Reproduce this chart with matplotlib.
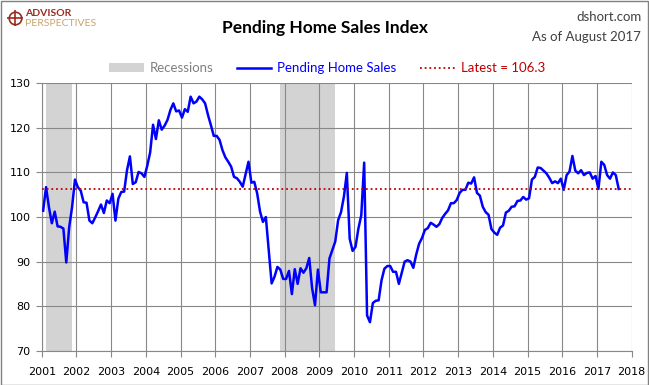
import matplotlib.pyplot as plt
import numpy as np
import pandas as pd
from matplotlib.patches import Patch, Rectangle
from matplotlib.lines import Line2D

# monthly index values, Jan 2001 .. Aug 2017
pending = [
    101.4, 106.7, 102.2, 98.6, 101.2, 97.9, 97.8, 97.4, 89.8, 97.7, 102.2, 108.4,   # 2001
    106.7, 105.9, 103.3, 103.2, 99.2, 98.6, 99.9, 101.3, 102.8, 100.9, 103.7, 103.1, # 2002
    105.2, 99.2, 104.1, 105.6, 105.7, 110.5, 113.6, 107.4, 107.8, 110.1, 109.8, 109.0, # 2003
    111.5, 114.5, 120.7, 117.5, 121.7, 119.6, 120.5, 121.8, 124.0, 125.5, 123.7, 123.9, # 2004
    122.3, 124.2, 123.6, 127.0, 125.5, 125.9, 127.0, 126.4, 125.5, 122.9, 120.6, 118.2, # 2005
    118.2, 117.3, 115.0, 113.4, 112.4, 111.3, 109.0, 108.7, 107.9, 106.8, 109.6, 112.4, # 2006
    107.7, 107.9, 105.3, 101.2, 98.9, 100.0, 92.5, 85.1, 86.6, 88.8, 88.2, 86.1,       # 2007
    86.1, 87.9, 82.7, 88.3, 85.0, 88.5, 87.5, 88.5, 90.8, 84.0, 80.2, 88.2,            # 2008
    83.1, 83.1, 83.1, 90.7, 92.6, 94.5, 99.3, 101.1, 104.6, 109.9, 95.1, 92.4,         # 2009
    93.3, 97.4, 100.4, 112.2, 77.9, 76.4, 80.7, 81.2, 81.3, 85.8, 88.4, 89.0,          # 2010
    89.0, 87.7, 87.7, 85.0, 87.5, 90.0, 90.3, 90.0, 88.6, 91.6, 94.0, 95.3,            # 2011
    97.1, 97.5, 98.7, 98.3, 97.8, 98.4, 99.8, 100.7, 101.5, 103.1, 103.1, 103.8,       # 2012
    105.4, 106.1, 106.1, 107.7, 107.5, 108.9, 105.4, 104.8, 102.3, 101.1, 100.5, 97.3, # 2013
    96.5, 96.0, 97.6, 98.1, 101.0, 101.4, 102.3, 102.4, 103.6, 103.7, 104.5, 103.9,    # 2014
    104.2, 108.4, 109.0, 111.1, 111.0, 110.4, 109.8, 108.8, 107.6, 108.0, 107.6, 108.6, # 2015
    106.1, 109.4, 110.2, 113.7, 110.4, 109.8, 110.5, 109.4, 109.9, 110.0, 108.6, 109.2, # 2016
    106.3, 112.4, 111.7, 109.4, 108.6, 110.0, 109.4, 106.3,                             # 2017
]
start = "2001-01"
latest = 106.3
recessions = [("2001-02-15", "2001-11-13"), ("2007-11-16", "2009-06-12")]
years = list(range(2001, 2019))
yticks = [70, 80, 90, 100, 110, 120, 130]


def dec_year(d):
    d = pd.Timestamp(d)
    return d.year + (d.dayofyear - 1) / 365.0


dates = pd.date_range(start, periods=len(pending), freq="MS")
x = dates.year + (dates.month - 0.5) / 12.0

W, H = 649, 385
fig = plt.figure(figsize=(W / 100, H / 100), dpi=100)
ax = fig.add_axes([41.7 / W, 34.3 / H, 590 / W, 267.4 / H])

grey = "#D3D3D3"
for a, b in recessions:
    ax.axvspan(dec_year(a), dec_year(b), color=grey, lw=0, zorder=1)

ax.plot(x, pending, color="#0000FF", lw=1.8, zorder=3)
ax.axhline(latest, color="#C00000", lw=1.3, ls=(0, (1, 1.6)), zorder=4)

ax.set_xlim(2001, 2018)
ax.set_ylim(70, 130)
ax.set_xticks(years)
ax.set_yticks(yticks)
ax.grid(True, color="#888888", lw=0.8)
for s in ["top", "right"]:
    ax.spines[s].set_visible(False)
for s in ["left", "bottom"]:
    ax.spines[s].set_color("#888888")
    ax.spines[s].set_linewidth(0.8)
ax.tick_params(axis="x", length=4, width=0.8, color="#888888", pad=8, labelsize=8)
ax.tick_params(axis="y", length=4, width=0.8, color="#888888", pad=4, labelsize=8)

# header
fig.text(0.5, 1 - 28 / H, "Pending Home Sales Index", ha="center", va="center",
         fontsize=12.5, fontweight="bold", family="Lato")
fig.text(0.988, 1 - 17 / H, "dshort.com", ha="right", va="center",
         fontsize=9.5, color="#404040", family="Lato")
fig.text(0.988, 1 - 37 / H, "As of August 2017", ha="right", va="center",
         fontsize=9.5, color="#404040", family="Lato")

# logo
fig.add_artist(Line2D([15 / W], [1 - 18 / H], marker="o", ms=9, mfc="none",
                      mec="#9B2A1E", mew=1.2, transform=fig.transFigure))
fig.add_artist(Line2D([15 / W], [1 - 18 / H], marker="+", ms=11,
                      mec="#9B2A1E", mew=1.2, transform=fig.transFigure))
fig.text(25 / W, 1 - 14 / H, "ADVISOR", ha="left", va="center", fontsize=7.5,
         fontweight="bold", color="#9B2A1E", family="Lato")
fig.text(25 / W, 1 - 24 / H, "PERSPECTIVES", ha="left", va="center", fontsize=7.5,
         color="#C9A46B", family="Lato")

handles = [
    Patch(facecolor=grey, edgecolor="none"),
    Line2D([], [], color="#0000FF", lw=1.8),
    Line2D([], [], color="#C00000", lw=1.3, ls=(0, (1, 1.6))),
]
labels = ["Recessions", "Pending Home Sales", "Latest = %.1f" % latest]
leg = fig.legend(handles, labels, ncol=3, loc="center",
                 bbox_to_anchor=(0.504, 1 - 68 / H), frameon=False,
                 prop={"family": "Lato", "size": 9.5}, handlelength=2.6,
                 handleheight=0.6, handletextpad=0.45, columnspacing=1.8)
for t, c in zip(leg.get_texts(), ["#808080", "#0000FF", "#C00000"]):
    t.set_color(c)

fig.add_artist(Rectangle((0.5 / W, 0.5 / H), 1 - 1.5 / W, 1 - 1.5 / H,
                         transform=fig.transFigure, fill=False,
                         edgecolor="#808080", lw=1))

fig.savefig("out.png", dpi=100)
